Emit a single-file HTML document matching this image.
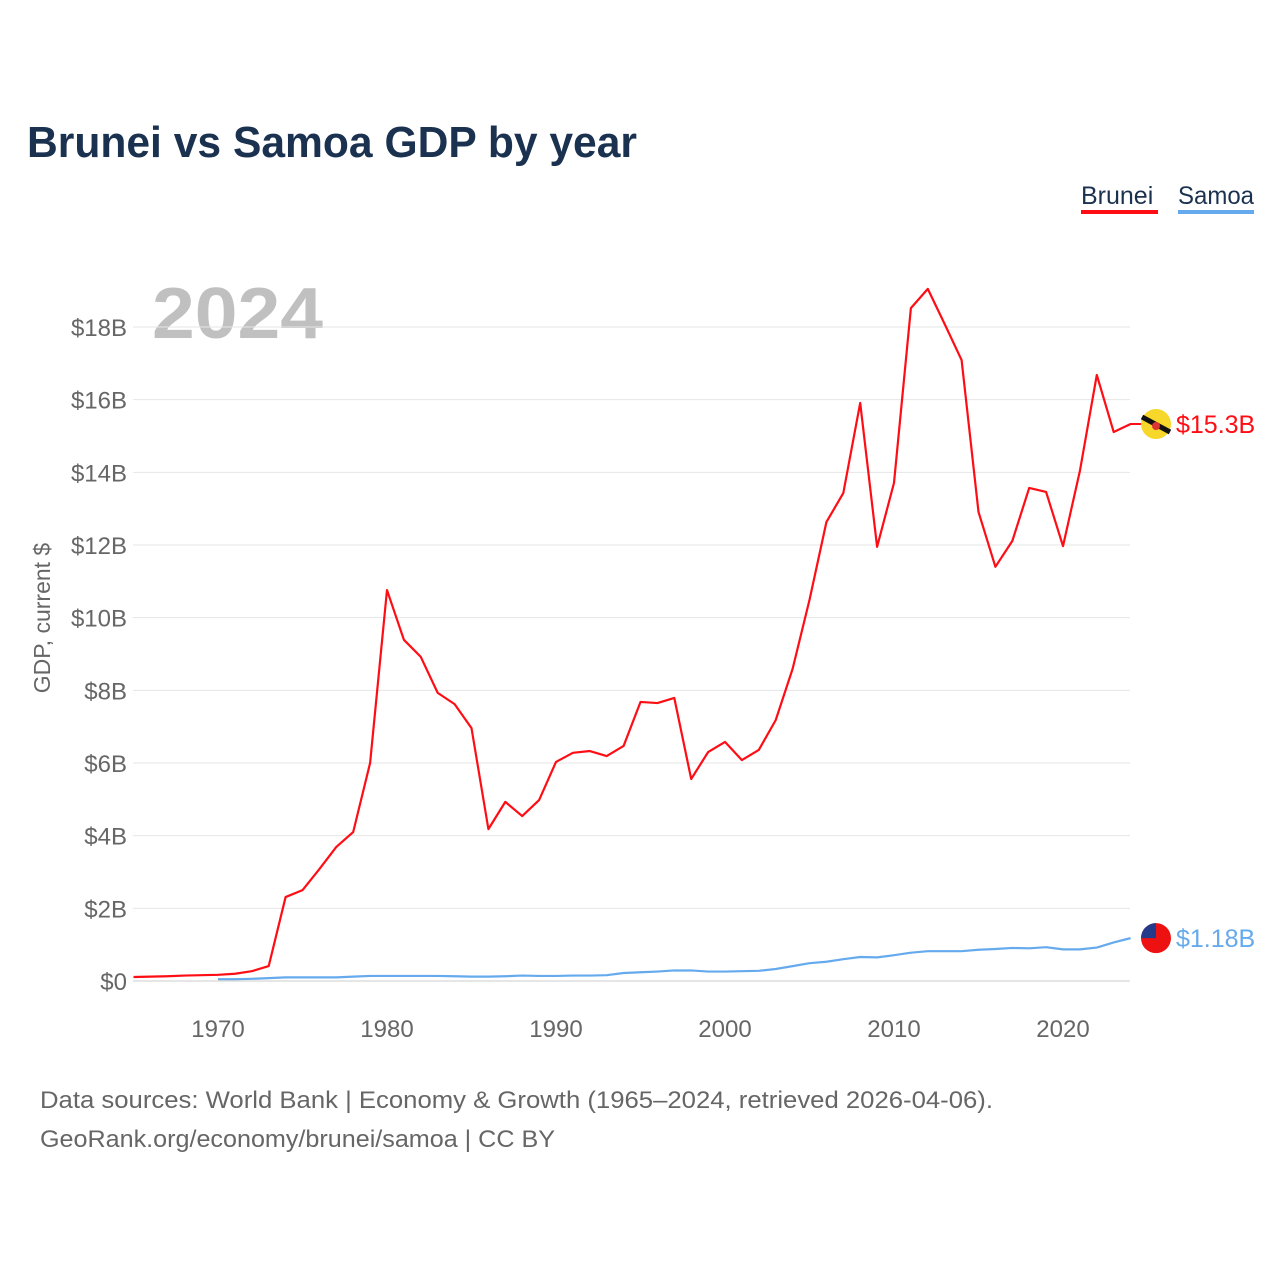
<!DOCTYPE html>
<html><head><meta charset="utf-8"><style>
body{margin:0;background:#fff;font-family:"Liberation Sans",sans-serif;}
#wrap{position:relative;width:1280px;height:1280px;overflow:hidden;}
</style></head><body>
<div id="wrap">
<svg id="chart" width="1280" height="1280" xmlns="http://www.w3.org/2000/svg">
<text x="27" y="157" font-size="44" font-weight="bold" fill="#1b3150" textLength="610" lengthAdjust="spacingAndGlyphs">Brunei vs Samoa GDP by year</text>
<g><text x="1081" y="204" font-size="25" fill="#1b3150">Brunei</text><rect x="1081" y="210" width="77" height="4" fill="#ff0d15"/></g>
<g><text x="1178" y="204" font-size="25" fill="#1b3150" textLength="76" lengthAdjust="spacingAndGlyphs">Samoa</text><rect x="1178" y="210" width="76" height="4" fill="#66aaee"/></g>
<text x="152" y="338" font-size="72" font-weight="bold" fill="#c0c0c0" textLength="171" lengthAdjust="spacingAndGlyphs">2024</text>
<text transform="translate(50,618) rotate(-90)" text-anchor="middle" font-size="23" fill="#666">GDP, current $</text>
<g id="grid"></g><g id="series"></g>
<text x="40" y="1108" font-size="24" fill="#666" textLength="953" lengthAdjust="spacingAndGlyphs">Data sources: World Bank | Economy &amp; Growth (1965–2024, retrieved 2026-04-06).</text>
<text x="40" y="1147" font-size="24" fill="#666" textLength="515" lengthAdjust="spacingAndGlyphs">GeoRank.org/economy/brunei/samoa | CC BY</text>
</svg></div>
<script>
const yTicks=[0,2,4,6,8,10,12,14,16,18];
const xTicks=[1970,1980,1990,2000,2010,2020];
const bruneiYears=[];for(let y=1965;y<=2024;y++)bruneiYears.push(y);
const bruneiGdp=[0.11,0.12,0.13,0.15,0.16,0.17,0.2,0.27,0.41,2.31,2.5,3.08,3.69,4.1,6.0,10.76,9.39,8.92,7.93,7.62,6.96,4.18,4.93,4.54,4.98,6.03,6.28,6.33,6.19,6.47,7.68,7.65,7.79,5.56,6.3,6.58,6.08,6.36,7.18,8.59,10.49,12.63,13.43,15.91,11.95,13.71,18.52,19.05,18.08,17.09,12.91,11.4,12.11,13.57,13.46,11.97,14.04,16.68,15.11,15.33];
const samoaYears=[];for(let y=1970;y<=2024;y++)samoaYears.push(y);
const samoaGdp=[0.05,0.05,0.06,0.08,0.1,0.1,0.1,0.1,0.12,0.14,0.14,0.14,0.14,0.14,0.13,0.12,0.12,0.13,0.15,0.14,0.14,0.15,0.15,0.16,0.22,0.24,0.26,0.29,0.29,0.26,0.26,0.27,0.28,0.33,0.41,0.49,0.53,0.6,0.66,0.65,0.71,0.78,0.82,0.82,0.82,0.86,0.88,0.91,0.9,0.93,0.87,0.87,0.92,1.06,1.18];
const NS='http://www.w3.org/2000/svg';
const X=y=>218+(y-1970)*16.9;
const Y=v=>981-v*36.333;
function mk(t,a,p){const e=document.createElementNS(NS,t);for(const k in a)e.setAttribute(k,a[k]);p.appendChild(e);return e;}
const grid=document.getElementById('grid'),ser=document.getElementById('series');
yTicks.forEach(v=>{
 const l=mk('line',{x1:133,x2:1130,y1:Y(v),y2:Y(v),stroke:v?'#e6e6e6':'#ccc','stroke-width':1},grid);
 
 
 const t=mk('text',{x:127,y:Y(v)+9,'text-anchor':'end','font-size':24,fill:'#666'},grid);
 t.textContent='$'+v+(v?'B':'');
 
 
});
xTicks.forEach(v=>{
 const t=mk('text',{x:X(v),y:1037,'text-anchor':'middle','font-size':24,fill:'#666'},grid);
 t.textContent=v;
 
 
});
function line(xs,vs,c,name){
 const p=mk('polyline',{points:xs.map((y,i)=>X(y)+','+Y(vs[i])).join(' '),fill:'none',stroke:c,'stroke-width':2.2,'stroke-linejoin':'round'},ser);
 
 
}
line(bruneiYears,bruneiGdp,'#ff0d15','brunei-line');
line(samoaYears,samoaGdp,'#66aaee','samoa-line');
const bl=bruneiGdp[bruneiGdp.length-1],sl=samoaGdp[samoaGdp.length-1];
mk('line',{x1:1130,x2:1142,y1:Y(bl),y2:Y(bl),stroke:'#ff0d15','stroke-width':2},ser);
const bf=mk('circle',{cx:1156,cy:Y(bl),r:15,fill:'#f7d72a'},ser);


mk('line',{x1:1142,x2:1170,y1:Y(bl)-7,y2:Y(bl)+8,stroke:'#111','stroke-width':5},ser);
mk('circle',{cx:1156,cy:Y(bl)+2,r:4,fill:'#d33'},ser);
const sf=mk('circle',{cx:1156,cy:Y(sl),r:15,fill:'#ee1111'},ser);


mk('path',{d:`M1156 ${Y(sl)} L1156 ${Y(sl)-15} A15 15 0 0 0 1141 ${Y(sl)} Z`,fill:'#233b8a'},ser);
const bt=mk('text',{x:1176,y:Y(bl)+9,'font-size':25,fill:'#ff0d15'},ser);
bt.textContent='$15.3B';


const st=mk('text',{x:1176,y:Y(sl)+9,'font-size':25,fill:'#66aaee'},ser);
st.textContent='$1.18B';


</script>
</body></html>
